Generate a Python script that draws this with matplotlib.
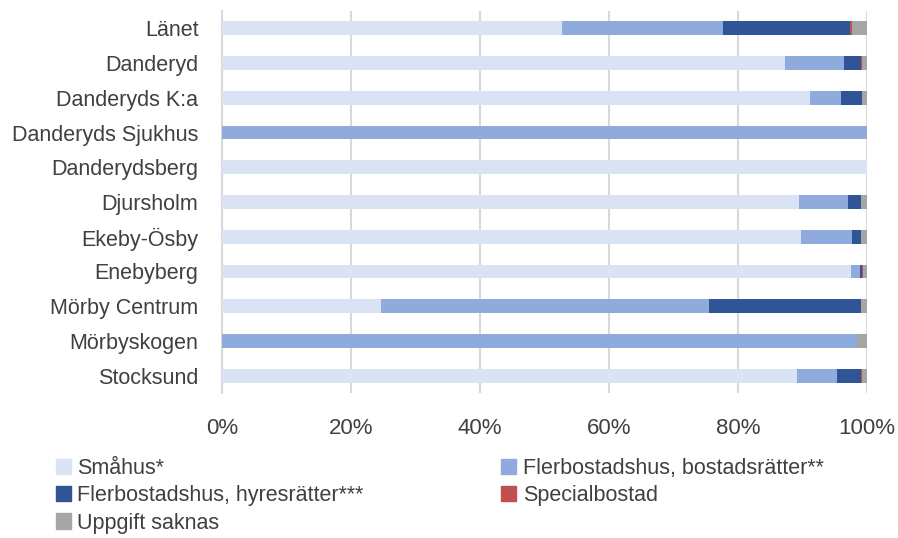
import matplotlib.pyplot as plt
import numpy as np
from matplotlib.patches import Patch
from matplotlib.ticker import PercentFormatter

plt.rcParams['font.family'] = ['Liberation Sans', 'DejaVu Sans']

omraden = ["Länet", "Danderyd", "Danderyds K:a", "Danderyds Sjukhus", "Danderydsberg",
           "Djursholm", "Ekeby-Ösby", "Enebyberg", "Mörby Centrum", "Mörbyskogen", "Stocksund"]

smahus =      [52.7, 87.3, 91.1, 0.0, 100.0, 89.4, 89.7, 97.5, 24.6, 0.0, 89.1]
bostadsratt = [25.0,  9.1,  4.9, 100.0, 0.0,  7.7,  7.9,  1.4, 50.9, 98.5, 6.3]
hyresratt =   [19.7,  2.7,  3.2, 0.0, 0.0,  2.0,  1.5,  0.3, 23.6, 0.0, 3.7]
special =     [ 0.2,  0.1,  0.0, 0.0, 0.0,  0.0,  0.0,  0.2,  0.0, 0.0, 0.2]
saknas =      [ 2.4,  0.8,  0.8, 0.0, 0.0,  0.9,  0.9,  0.6,  0.9, 1.5, 0.7]

serier = ["Småhus*", "Flerbostadshus, bostadsrätter**", "Flerbostadshus, hyresrätter***",
          "Specialbostad", "Uppgift saknas"]
farger = ["#DAE3F3", "#8FAADC", "#2F5597", "#C0504D", "#A5A5A5"]

fig = plt.figure(figsize=(8.98, 5.38), dpi=100)
ax = fig.add_axes([222/898, 1-393/538, 645/898, 382/538])

y = np.arange(len(omraden))
left = np.zeros(len(omraden))
for vals, col in zip([smahus, bostadsratt, hyresratt, special, saknas], farger):
    ax.barh(y, vals, left=left, height=0.4, color=col, zorder=3)
    left += np.array(vals)

ax.set_xlim(0, 100)
ax.set_ylim(len(omraden) - 0.5, -0.5)
ax.set_yticks(y)
ax.set_yticklabels(omraden, fontsize=15.5, color="#404040")
ax.set_xticks(np.arange(0, 101, 20))
ax.xaxis.set_major_formatter(PercentFormatter(decimals=0))
ax.tick_params(axis='x', labelsize=16, colors="#404040", length=0, pad=18)
ax.tick_params(axis='y', length=0, pad=17)
ax.grid(axis='x', color="#D9D9D9", linewidth=1.5, zorder=0)
for s in ["top", "right", "bottom"]:
    ax.spines[s].set_visible(False)
ax.spines["left"].set_color("#D9D9D9")
ax.spines["left"].set_linewidth(1.5)

handles = [Patch(color=c, label=l) for c, l in zip(farger, serier)]
order = [0, 2, 4, 1, 3]
fig.legend([handles[i] for i in order], [serier[i] for i in order], ncol=2,
           loc="upper left", bbox_to_anchor=(47/898, 1-449/538), frameon=False,
           fontsize=15.5, handlelength=0.7, handleheight=0.7, handletextpad=0.3,
           labelspacing=0.3, columnspacing=6.4, labelcolor="#404040", borderaxespad=0)

fig.savefig("out.png", dpi=100)
